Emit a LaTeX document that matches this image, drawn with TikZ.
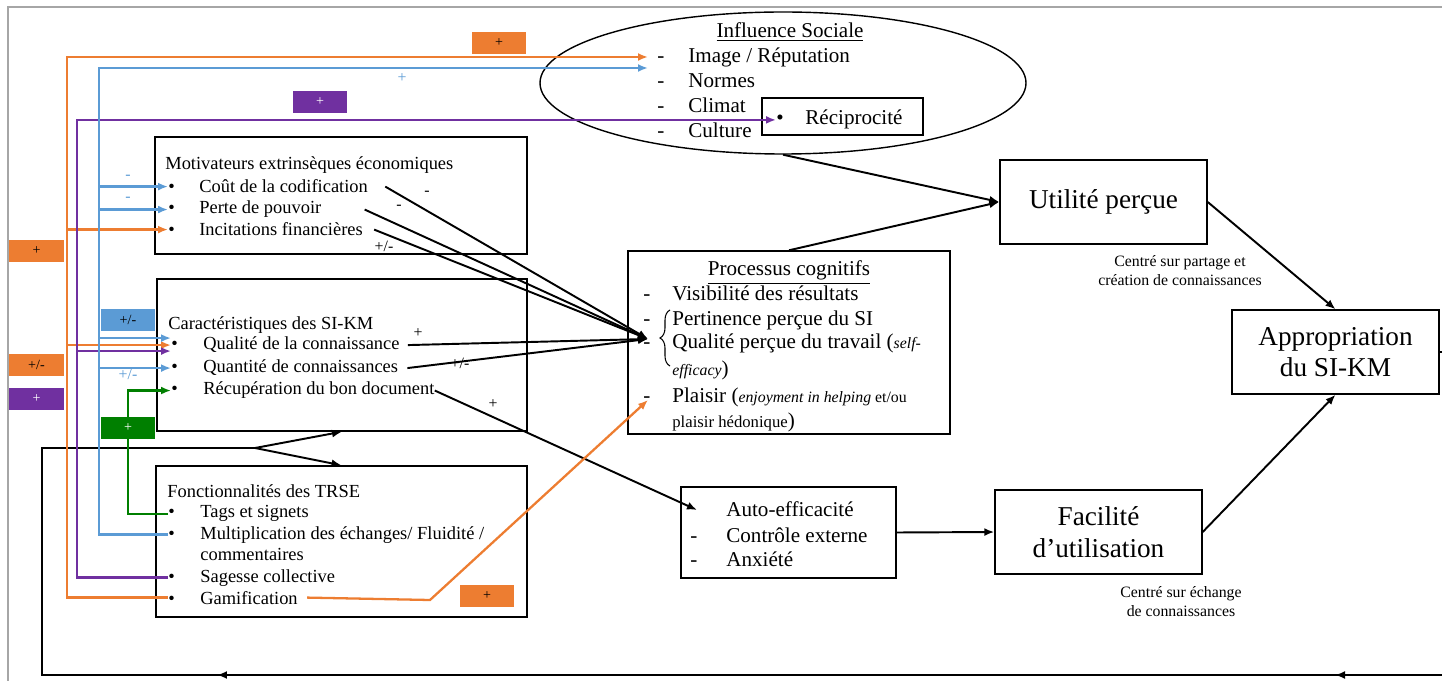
\documentclass[tikz,border=0pt]{standalone}
\usepackage{fontspec}
\setmainfont{Liberation Serif}
\usetikzlibrary{arrows.meta,shapes.geometric,decorations.markings,decorations.pathreplacing}
\definecolor{korange}{HTML}{ED7D31}
\definecolor{kblue}{HTML}{5B9BD5}
\definecolor{kpurple}{HTML}{7030A0}
\definecolor{kgreen}{HTML}{007F00}
\begin{document}
\begin{tikzpicture}[x=0.2mm,y=-0.2mm]
\tikzstyle{box}=[draw,line width=0.8pt,inner sep=0pt]
\tikzstyle{item}=[anchor=base west,inner sep=0pt,yshift=-0.6mm,font=\fontsize{10.5}{12}\selectfont]
\tikzstyle{bigitem}=[anchor=base west,inner sep=0pt,yshift=-0.6mm,font=\fontsize{12}{14}\selectfont]
\tikzstyle{big}=[font=\fontsize{15.5}{18}\selectfont,align=center]
\tikzstyle{note}=[font=\fontsize{9}{10.8}\selectfont,align=center,inner sep=0pt]
\tikzstyle{sign}=[font=\fontsize{9}{10}\selectfont,inner sep=0pt]
\tikzstyle{tag}=[inner sep=0pt,minimum width=10.8mm,minimum height=4.4mm,font=\fontsize{8}{9}\selectfont]
\tikzstyle{arr}=[line width=1.1pt,-{Latex[length=2mm,width=1.6mm]}]
\tikzstyle{arrC}=[-{Latex[length=2mm,width=1.6mm]}]
\tikzstyle{oline}=[korange,line width=1.3pt]
\tikzstyle{bline}=[kblue,line width=1.3pt]
\tikzstyle{pline}=[kpurple,line width=1.3pt]
\tikzstyle{gline}=[kgreen,line width=1.3pt]
\useasboundingbox (0,0) rectangle (1442,681);
\draw[gray!70,line width=1pt] (8,681) -- (8,7) -- (1442,7);

% influence sociale
\node[box,ellipse,minimum width=97.2mm,minimum height=28.4mm] (infl) at (783,83) {};
\node[bigitem,anchor=base] (inflT) at (790,35) {\underline{Influence Sociale}};
\node[bigitem] (img) at (657,60) {\makebox[6.2mm][l]{-}Image / Réputation};
\node[bigitem] (norm) at (657,85) {\makebox[6.2mm][l]{-}Normes};
\node[bigitem] (clim) at (657,110) {\makebox[6.2mm][l]{-}Climat};
\node[bigitem] (cult) at (657,135) {\makebox[6.2mm][l]{-}Culture};
\node[box,minimum width=32.2mm,minimum height=7.4mm] (recipB) at (842.5,116.5) {};
\node[bigitem] (recip) at (776,122) {\makebox[5.8mm][l]{\textbullet}Réciprocité};

% boites de gauche
\node[box,minimum width=74.4mm,minimum height=23.4mm] (motiv) at (341,195.5) {};
\node[item] (motivT) at (165,167) {Motivateurs extrinsèques économiques};
\node[item] (cout) at (168,190) {\makebox[6.2mm][l]{\textbullet}Coût de la codification};
\node[item] (perte) at (168,211) {\makebox[6.2mm][l]{\textbullet}Perte de pouvoir};
\node[item] (incit) at (168,233) {\makebox[6.2mm][l]{\textbullet}Incitations financières};

\node[box,minimum width=74mm,minimum height=30.4mm] (carac) at (342,355) {};
\node[item] (caracT) at (168,327) {Caractéristiques des SI-KM};
\node[item] (qual) at (171,347) {\makebox[6.4mm][l]{\textbullet}Qualité de la connaissance};
\node[item] (quant) at (171,370) {\makebox[6.4mm][l]{\textbullet}Quantité de connaissances};
\node[item] (recup) at (171,392) {\makebox[6.4mm][l]{\textbullet}Récupération du bon document};

\node[box,minimum width=74.2mm,minimum height=30.2mm] (fonct) at (341.5,541.5) {};
\node[item] (fonctT) at (167,494) {Fonctionnalités des TRSE};
\node[item] (tags) at (168,515) {\makebox[6.4mm][l]{\textbullet}Tags et signets};
\node[item] (multi) at (168,536) {\makebox[6.4mm][l]{\textbullet}Multiplication des échanges/ Fluidité /};
\node[item] (comm) at (200,557) {commentaires};
\node[item] (sag) at (168,579) {\makebox[6.4mm][l]{\textbullet}Sagesse collective};
\node[item] (gamif) at (168,601) {\makebox[6.4mm][l]{\textbullet}Gamification};

% processus cognitifs
\node[box,minimum width=64.4mm,minimum height=36.6mm] (proc) at (789,342.5) {};
\node[bigitem,anchor=base] (procT) at (789,273) {\underline{Processus cognitifs}};
\node[bigitem] (visib) at (643,298) {\makebox[5.8mm][l]{-}Visibilité des résultats};
\node[bigitem] (pert) at (643,323) {\makebox[5.8mm][l]{-}Pertinence perçue du SI};
\node[bigitem] (qualp) at (643,346) {\makebox[5.8mm][l]{-}Qualité perçue du travail ({\fontsize{9}{10}\itshape self-}};
\node[bigitem] (effic) at (672,373) {{\fontsize{9}{10}\itshape efficacy})};
\node[bigitem] (plais) at (643,400) {\makebox[5.8mm][l]{-}Plaisir ({\fontsize{9}{10}\selectfont\itshape enjoyment in helping \upshape et/ou}};
\node[bigitem] (hedon) at (672,425) {{\fontsize{9.5}{10}\selectfont plaisir hédonique})};
\draw[decorate,decoration={brace,amplitude=2mm},line width=0.6pt] (670,366) -- (670,310);

% boites de droite
\node[box,big,minimum width=41.4mm,minimum height=16.8mm] (util) at (1103.5,202) {Utilité perçue};
\node[box,big,minimum width=41.4mm,minimum height=16.8mm] (appro) at (1335.5,352) {Appropriation\\du SI-KM};
\node[box,minimum width=43mm,minimum height=18.2mm] (auto) at (788.5,532.5) {};
\node[bigitem] (autoA) at (726,514) {Auto-efficacité};
\node[bigitem] (autoB) at (690,539) {\makebox[7.2mm][l]{-}Contrôle externe};
\node[bigitem] (autoC) at (690,563) {\makebox[7.2mm][l]{-}Anxiété};
\node[box,big,minimum width=41.4mm,minimum height=16.8mm] (facil) at (1098.5,532) {Facilité\\d’utilisation};
\node[note] (noteU) at (1180,271) {Centré sur partage et\\création de connaissances};
\node[note] (noteF) at (1181,602) {Centré sur échange\\de connaissances};

% points d'arrivee
\coordinate (procIn) at (648,339);
\coordinate (plaisIn) at (648,400);
\coordinate (autoIn) at (697,510);
\coordinate (imgO) at (648,57);
\coordinate (imgB) at (648,68);
\coordinate (oV) at (67,0);
\coordinate (pV) at (77,0);
\coordinate (bV) at (99,0);
\coordinate (gV) at (128,0);
\coordinate (qualB) at ([yshift=1.4mm]qual.west);
\coordinate (qualP) at ([yshift=-1.2mm]qual.west);
\coordinate (edgeA) at (1442,352);
\coordinate (edgeB) at (1442,675);
\coordinate (fork) at (255,448);

% fleches noires
\draw[arr] (infl.south) -- (util.west);
\draw[arr] (proc.north) -- (util.west);
\draw[arr] (util.east) -- (appro.north);
\draw[arr] (facil.east) -- (appro.south);
\draw[arr] (auto.east) -- (facil.west);
\draw[arr] ([xshift=3.4mm]cout.east) -- (procIn);
\draw[arr] ([xshift=8.6mm]perte.east) -- (procIn);
\draw[arr] ([xshift=2.2mm]incit.east) -- (procIn);
\draw[arr] ([xshift=1.6mm]qual.east) -- (procIn);
\draw[arr] ([xshift=1.8mm]quant.east) -- (procIn);
\draw[arr] (recup.east) -- (autoIn);
\draw[line width=1.1pt] (appro.east) -- (edgeA);
\draw[line width=1.1pt,postaction={decorate},decoration={markings,
  mark=at position 21.4mm with {\arrow{Latex[length=2mm,width=1.6mm]}},
  mark=at position 245mm with {\arrow{Latex[length=2mm,width=1.6mm]}}}]
  (edgeB) -- (42,675) -- (42,448) -- (fork);
\draw[arr] (fork) -- (carac.south);
\draw[arr] (fork) -- (fonct.north);

% signes
\node[sign] (sCout) at (427,193) {-};
\node[sign] (sPerte) at (399,207) {-};
\node[sign] (sIncit) at (384,246) {+/-};
\node[sign] (sQual) at (418,333) {+};
\node[sign] (sQuant) at (460,363) {+/-};
\node[sign] (sRecup) at (493,404) {+};

% lignes de couleur
\draw[oline,arrC] (gamif.west) -| (oV |- imgO) -- (imgO);
\draw[oline,arrC] (oV |- incit.west) -- (incit.west);
\draw[oline,arrC] (oV |- qual.west) -- (qual.west);
\draw[oline,arrC] ([xshift=1.8mm]gamif.east) -- (430,600) -- (plaisIn);
\draw[pline,arrC] (sag.west) -| (pV |- recip.west) -- (recip.west);
\draw[pline,arrC] (pV |- qualP) -- (qualP);
\draw[bline,arrC] (multi.west) -| (bV |- imgB) -- (imgB);
\draw[bline,arrC] (bV |- cout.west) -- (cout.west);
\draw[bline,arrC] (bV |- perte.west) -- (perte.west);
\draw[bline,arrC] (bV |- qualB) -- (qualB);
\draw[bline,arrC] (bV |- quant.west) -- (quant.west);
\draw[gline,arrC] (tags.west) -| (gV |- recup.west) -- (recup.west);
\node[sign,kblue] (sB1) at (402,78) {+};
\node[sign,kblue] (sB2) at (128,177) {-};
\node[sign,kblue] (sB3) at (128,199) {-};
\node[sign,kblue] (sB4) at (128,374) {+/-};

% etiquettes
\node[tag,fill=korange] (tO1) at (499,43) {+};
\node[tag,fill=kpurple,text=white] (tP1) at (320,102) {+};
\node[tag,fill=korange] (tO2) at (36.5,251) {+};
\node[tag,fill=kblue] (tB1) at (128,320) {+/-};
\node[tag,fill=korange] (tO3) at (36.5,365) {+/-};
\node[tag,fill=kpurple,text=white] (tP2) at (36.5,399) {+};
\node[tag,fill=kgreen,text=white] (tG1) at (128,428) {+};
\node[tag,fill=korange] (tO4) at (487,596) {+};
\end{tikzpicture}
\end{document}
